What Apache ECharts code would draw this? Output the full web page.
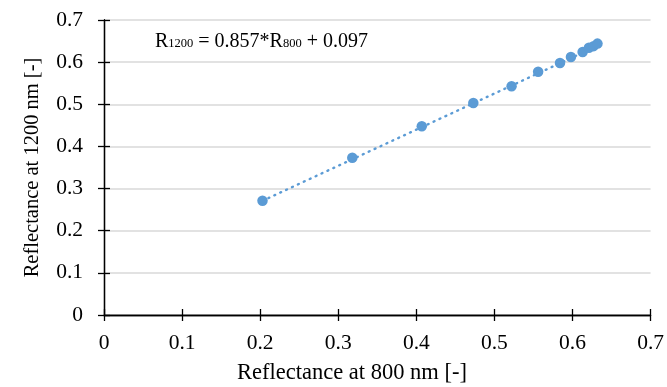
<!DOCTYPE html>
<html><head><meta charset="utf-8">
<script src="https://cdn.jsdelivr.net/npm/echarts@6/dist/echarts.min.js"></script>
<style>html,body{margin:0;padding:0;background:#fff}#c{width:667px;height:387px}</style>
</head><body><div id="c"></div>
<script>
const xValues = [0.203, 0.318, 0.407, 0.473, 0.522, 0.556, 0.584, 0.598, 0.613, 0.621, 0.627, 0.632];
const yValues = [0.271, 0.373, 0.448, 0.503, 0.543, 0.577, 0.598, 0.612, 0.624, 0.634, 0.638, 0.644];
const slope = 0.857, intercept = 0.097;
const tickLabels = ['0','0.1','0.2','0.3','0.4','0.5','0.6','0.7'];
const xTitle = 'Reflectance at 800 nm [-]';
const yTitle = 'Reflectance at 1200 nm [-]';

const pts = xValues.map((x,i)=>[x,yValues[i]]);
const xmin = Math.min(...xValues), xmax = Math.max(...xValues);
const trend = [[xmin, slope*xmin+intercept],[xmax, slope*xmax+intercept]];
const font = 'Liberation Serif';
const fmt = v => tickLabels[Math.round(v*10)];
const chart = echarts.init(document.getElementById('c'));
const baseAxis = {
  min:0, max:0.7, interval:0.1,
  axisLine:{show:true,onZero:false,lineStyle:{color:'#000',width:1.3}},
  axisTick:{show:true,length:6,lineStyle:{color:'#000',width:1.3}},
  splitLine:{show:false}
};
chart.setOption({
  animation:false,
  grid:[{left:104,right:16,top:20,bottom:72}],
  xAxis:[
    Object.assign({}, baseAxis, {type:'value', gridIndex:0,
      axisLabel:{formatter:fmt, fontFamily:font, fontSize:21.5, color:'#000', margin:17}}),
    Object.assign({}, baseAxis, {type:'value', gridIndex:0, position:'bottom',
      axisTick:{show:true,inside:true,length:6,lineStyle:{color:'#000',width:1.3}},
      axisLabel:{show:false}})
  ],
  yAxis:[
    Object.assign({}, baseAxis, {type:'value', gridIndex:0,
      splitLine:{show:true,lineStyle:{color:'#d9d9d9',width:1.5}},
      axisLabel:{formatter:fmt, fontFamily:font, fontSize:21.5, color:'#000', margin:21},
      name:yTitle, nameLocation:'middle', nameGap:61, nameRotate:90,
      nameTextStyle:{fontFamily:font, fontSize:20.5, color:'#000'}}),
    Object.assign({}, baseAxis, {type:'value', gridIndex:0, position:'left',
      axisTick:{show:true,inside:true,length:6,lineStyle:{color:'#000',width:1.3}},
      axisLabel:{show:false}})
  ],
  series:[
    {type:'line', data:trend, xAxisIndex:0, yAxisIndex:0, symbol:'none',
     lineStyle:{color:'#5b9bd5', width:2.4, type:[1,5.5], cap:'round'}, z:2},
    {type:'scatter', data:pts, xAxisIndex:0, yAxisIndex:0, symbolSize:10.5,
     itemStyle:{color:'#5b9bd5', opacity:1}, z:3}
  ],
  graphic:[{
    type:'text', left:155, top:32,
    style:{
      text:'{r|R}{s|1200}{r| = 0.857*R}{s|800}{r| + 0.097}',
      rich:{
        r:{fontFamily:font, fontSize:20, fill:'#000', verticalAlign:'bottom'},
        s:{fontFamily:font, fontSize:12.5, fill:'#000', verticalAlign:'bottom', padding:[0,0,2,0]}
      }
    }
  },{
    type:'text', x:352, y:362,
    style:{text:xTitle, fontFamily:font, fontSize:22.5, fill:'#000', textAlign:'center', textVerticalAlign:'top'}
  }]
});
</script></body></html>
